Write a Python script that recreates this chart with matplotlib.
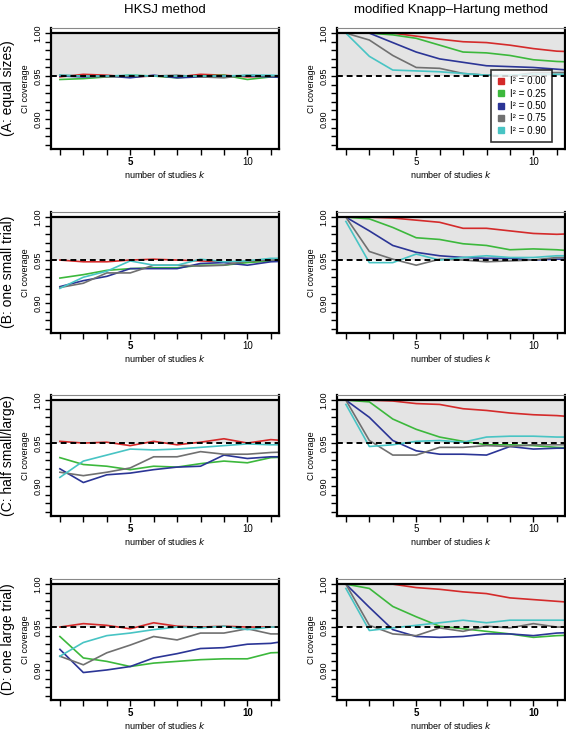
import matplotlib.pyplot as plt
from matplotlib.lines import Line2D
import numpy as np

plt.rcParams['font.family'] = ['Liberation Sans', 'DejaVu Sans']

k = [2, 3, 4, 5, 6, 7, 8, 9, 10, 11, 12]
i2_labels = ["0.00", "0.25", "0.50", "0.75", "0.90"]
colours = ["#d42a2a", "#3cb83c", "#2b3596", "#707070", "#48c4c4"]

row_titles = ["(A: equal sizes)", "(B: one small trial)",
              "(C: half small/large)", "(D: one large trial)"]
col_titles = ["HKSJ method", "modified Knapp\u2013Hartung method"]

# coverage[row][col] -> one list per I^2 value (red, green, blue, grey, cyan)
hksj_A = [
    [0.949, 0.952, 0.951, 0.949, 0.950, 0.949, 0.952, 0.951, 0.949, 0.950, 0.950],
    [0.946, 0.947, 0.949, 0.951, 0.950, 0.948, 0.950, 0.951, 0.946, 0.949, 0.948],
    [0.950, 0.949, 0.950, 0.948, 0.951, 0.948, 0.949, 0.950, 0.950, 0.949, 0.948],
    [0.951, 0.950, 0.949, 0.950, 0.950, 0.951, 0.949, 0.948, 0.951, 0.950, 0.950],
    [0.951, 0.950, 0.950, 0.951, 0.950, 0.950, 0.950, 0.950, 0.951, 0.951, 0.950],
]
mkh_A = [
    [1.000, 1.000, 1.000, 0.9965, 0.993, 0.990, 0.989, 0.986, 0.982, 0.979, 0.978],
    [1.000, 1.000, 0.998, 0.994, 0.986, 0.978, 0.977, 0.974, 0.969, 0.967, 0.966],
    [1.000, 1.000, 0.989, 0.978, 0.970, 0.966, 0.962, 0.961, 0.960, 0.958, 0.956],
    [1.000, 0.992, 0.974, 0.960, 0.959, 0.953, 0.951, 0.950, 0.954, 0.954, 0.954],
    [1.000, 0.973, 0.957, 0.956, 0.955, 0.953, 0.951, 0.951, 0.952, 0.952, 0.952],
]
hksj_B = [
    [0.950, 0.948, 0.948, 0.950, 0.951, 0.950, 0.949, 0.948, 0.948, 0.949, 0.949],
    [0.929, 0.933, 0.938, 0.940, 0.941, 0.941, 0.944, 0.944, 0.947, 0.949, 0.950],
    [0.919, 0.926, 0.931, 0.940, 0.940, 0.940, 0.946, 0.947, 0.944, 0.948, 0.949],
    [0.918, 0.923, 0.935, 0.935, 0.944, 0.944, 0.943, 0.944, 0.949, 0.950, 0.950],
    [0.917, 0.930, 0.937, 0.949, 0.944, 0.944, 0.951, 0.948, 0.949, 0.952, 0.952],
]
mkh_B = [
    [1.000, 1.000, 0.999, 0.9965, 0.994, 0.987, 0.987, 0.984, 0.981, 0.980, 0.981],
    [1.000, 0.998, 0.988, 0.976, 0.974, 0.969, 0.967, 0.962, 0.963, 0.962, 0.960],
    [1.000, 0.984, 0.967, 0.959, 0.955, 0.953, 0.952, 0.952, 0.950, 0.951, 0.951],
    [1.000, 0.960, 0.951, 0.944, 0.951, 0.950, 0.948, 0.949, 0.950, 0.953, 0.953],
    [0.995, 0.947, 0.947, 0.957, 0.950, 0.953, 0.955, 0.953, 0.953, 0.955, 0.955],
]
hksj_C = [
    [0.952, 0.950, 0.951, 0.947, 0.952, 0.948, 0.951, 0.955, 0.950, 0.954, 0.952],
    [0.933, 0.925, 0.923, 0.919, 0.923, 0.922, 0.926, 0.929, 0.927, 0.933, 0.934],
    [0.920, 0.904, 0.913, 0.915, 0.919, 0.922, 0.923, 0.936, 0.932, 0.934, 0.934],
    [0.916, 0.912, 0.916, 0.921, 0.934, 0.934, 0.940, 0.937, 0.937, 0.939, 0.940],
    [0.910, 0.929, 0.936, 0.943, 0.942, 0.943, 0.945, 0.947, 0.949, 0.948, 0.948],
]
mkh_C = [
    [1.000, 1.000, 0.999, 0.996, 0.995, 0.990, 0.988, 0.985, 0.983, 0.982, 0.980],
    [1.000, 0.998, 0.978, 0.966, 0.957, 0.952, 0.948, 0.948, 0.947, 0.945, 0.944],
    [1.000, 0.980, 0.953, 0.941, 0.937, 0.937, 0.936, 0.946, 0.943, 0.944, 0.944],
    [1.000, 0.953, 0.936, 0.936, 0.945, 0.945, 0.947, 0.946, 0.948, 0.948, 0.948],
    [0.995, 0.946, 0.948, 0.952, 0.953, 0.951, 0.957, 0.958, 0.958, 0.957, 0.957],
]
hksj_D = [
    [0.950, 0.954, 0.952, 0.948, 0.955, 0.951, 0.950, 0.951, 0.950, 0.950, 0.950],
    [0.939, 0.914, 0.910, 0.904, 0.908, 0.910, 0.912, 0.913, 0.913, 0.920, 0.921],
    [0.924, 0.897, 0.900, 0.904, 0.914, 0.919, 0.925, 0.926, 0.930, 0.931, 0.935],
    [0.916, 0.906, 0.920, 0.929, 0.939, 0.935, 0.943, 0.943, 0.948, 0.942, 0.942],
    [0.916, 0.932, 0.940, 0.943, 0.947, 0.950, 0.949, 0.951, 0.947, 0.950, 0.950],
]
mkh_D = [
    [1.000, 1.000, 1.000, 0.996, 0.994, 0.991, 0.989, 0.984, 0.982, 0.980, 0.978],
    [1.000, 0.995, 0.974, 0.962, 0.951, 0.948, 0.945, 0.942, 0.938, 0.940, 0.941],
    [1.000, 0.973, 0.947, 0.939, 0.938, 0.939, 0.942, 0.942, 0.940, 0.943, 0.944],
    [1.000, 0.952, 0.942, 0.940, 0.949, 0.945, 0.951, 0.949, 0.954, 0.950, 0.950],
    [0.995, 0.946, 0.949, 0.952, 0.955, 0.958, 0.955, 0.958, 0.958, 0.958, 0.958],
]
coverage = [[hksj_A, mkh_A], [hksj_B, mkh_B], [hksj_C, mkh_C], [hksj_D, mkh_D]]

W, H = 566, 730
fig = plt.figure(figsize=(W / 100, H / 100), dpi=100)

col_x = [51, 337]
row_top = [28, 212, 395, 579]
ax_w, ax_h = 228, 121

for r in range(4):
    for c in range(2):
        ax = fig.add_axes([col_x[c] / W, 1 - (row_top[r] + ax_h) / H, ax_w / W, ax_h / H])
        ax.axhspan(0.95, 1.0, color="#e4e4e4", lw=0)
        for s, col in enumerate(colours):
            ax.plot(k, coverage[r][c][s], color=col, lw=1.2)
        ax.axhline(1.0, color="black", lw=1.6)
        ax.axhline(0.95, color="black", lw=1.4, ls=(0, (3, 2)))
        ax.set_xlim(1.62, 11.35)
        ax.set_ylim(0.865, 1.006)

        ax.set_xticks(range(2, 12))
        bold_all = (r == 3)
        labs = []
        for t in range(2, 12):
            labs.append(str(t) if t in (5, 10) else "")
        ax.set_xticklabels(labs, fontsize=7)
        for t, lab in zip(range(2, 12), ax.get_xticklabels()):
            if bold_all or (c == 0 and t == 5):
                lab.set_fontweight("bold")
        yt = np.round(np.arange(0.87, 1.001, 0.01), 2)
        ax.set_yticks(yt)
        ax.set_yticklabels(["{:.2f}".format(v) if v in (0.90, 0.95, 1.00) else "" for v in yt],
                           fontsize=6.5, rotation=90, va="center")
        ax.tick_params(length=4, width=1.0, pad=2)
        for sp in ["left", "bottom", "right"]:
            ax.spines[sp].set_linewidth(1.6)
        ax.spines["top"].set_linewidth(0.8)
        ax.spines["top"].set_color("#888888")
        ax.set_ylabel("CI coverage", fontsize=6.5, labelpad=3)
        ax.set_xlabel("number of studies $k$", fontsize=6.5, labelpad=1)

        if r == 0:
            ax.set_title(col_titles[c], fontsize=9.5, pad=11)
        if c == 0:
            fig.text(8 / W, 1 - (row_top[r] + 60) / H, row_titles[r], rotation=90,
                     fontsize=10, ha="center", va="center")
        if r == 0 and c == 1:
            handles = [Line2D([], [], ls="", marker="s", markersize=4, color=col)
                       for col in colours]
            leg = ax.legend(handles, ["I\u00b2 = " + v for v in i2_labels],
                            loc="lower right", fontsize=7, frameon=True, fancybox=False,
                            handlelength=0.8, handletextpad=0.6, borderpad=0.6,
                            labelspacing=0.25, bbox_to_anchor=(0.965, 0.02))
            leg.get_frame().set_edgecolor("black")
            leg.get_frame().set_linewidth(1.2)

fig.savefig("out.png", dpi=100)
